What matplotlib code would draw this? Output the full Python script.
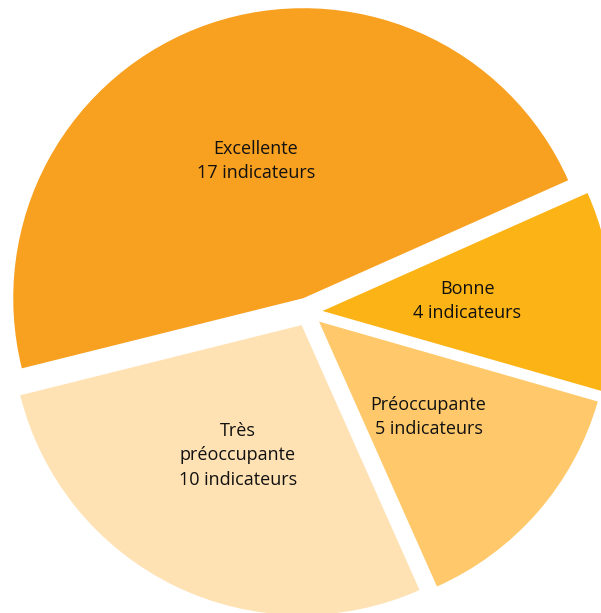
import matplotlib.pyplot as plt

# Data
categories = ["Excellente\n17 indicateurs", "Bonne\n4 indicateurs",
              "Préoccupante\n5 indicateurs", "Très\npréoccupante\n10 indicateurs"]
counts = [17, 4, 5, 10]
colors = ["#F8A01F", "#FCB316", "#FFC96B", "#FFE2B4"]

plt.rcParams['font.family'] = ['Open Sans', 'DejaVu Sans']

fig = plt.figure(figsize=(6.01, 6.13), dpi=100)
ax = fig.add_axes([0, 0, 1, 1])

# pie works in pixel units here, so explode is an absolute shift in pixels
ax.pie(counts, labels=categories, colors=colors,
       explode=[14.6] * len(counts), startangle=194, counterclock=False,
       radius=290, center=(308, 301), labeldistance=0.5,
       wedgeprops=dict(linewidth=0),
       textprops=dict(ha='center', va='center', multialignment='center',
                      fontsize=13, color='#111111', linespacing=1.45))

ax.set_xlim(0, 601)
ax.set_ylim(0, 613)
ax.set_aspect('equal')
ax.axis('off')

fig.savefig('out.png', dpi=100)
